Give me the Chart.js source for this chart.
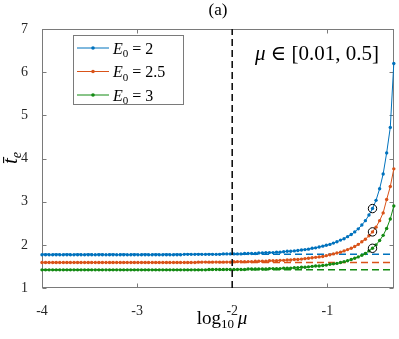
<!DOCTYPE html>
<html><head><meta charset="utf-8">
<script src="https://cdn.jsdelivr.net/npm/chart.js@4/dist/chart.umd.min.js"></script>
<style>html,body{margin:0;padding:0;background:#fff;overflow:hidden}</style>
</head><body>
<canvas id="c" width="399" height="339"></canvas>
<script>
// ---- data ----
const logMu = [
-4.000,-3.963,-3.925,-3.888,-3.851,-3.813,-3.776,-3.738,-3.701,-3.664,
-3.626,-3.589,-3.552,-3.514,-3.477,-3.440,-3.402,-3.365,-3.327,-3.290,
-3.253,-3.215,-3.178,-3.141,-3.103,-3.066,-3.029,-2.991,-2.954,-2.916,
-2.879,-2.842,-2.804,-2.767,-2.730,-2.692,-2.655,-2.618,-2.580,-2.543,
-2.505,-2.468,-2.431,-2.393,-2.356,-2.319,-2.281,-2.244,-2.207,-2.169,
-2.132,-2.094,-2.057,-2.020,-1.982,-1.945,-1.908,-1.870,-1.833,-1.796,
-1.758,-1.721,-1.683,-1.646,-1.609,-1.571,-1.534,-1.497,-1.459,-1.422,
-1.385,-1.347,-1.310,-1.272,-1.235,-1.198,-1.160,-1.123,-1.086,-1.048,
-1.011,-0.973,-0.936,-0.899,-0.861,-0.824,-0.787,-0.749,-0.712,-0.675,
-0.637,-0.600,-0.562,-0.525,-0.488,-0.450,-0.413,-0.376,-0.338,-0.301];

const tE_E2 = [
1.77,1.77,1.77,1.77,1.77,1.77,1.77,1.77,1.77,1.77,
1.77,1.77,1.77,1.77,1.77,1.77,1.77,1.77,1.77,1.77,
1.77,1.77,1.77,1.77,1.77,1.77,1.77,1.77,1.77,1.77,
1.77,1.77,1.77,1.77,1.77,1.77,1.77,1.77,1.77,1.77,
1.78,1.78,1.78,1.78,1.78,1.78,1.78,1.78,1.78,1.78,
1.78,1.79,1.79,1.79,1.79,1.79,1.79,1.80,1.80,1.80,
1.80,1.81,1.81,1.82,1.82,1.82,1.83,1.83,1.84,1.85,
1.85,1.86,1.87,1.88,1.89,1.90,1.92,1.93,1.95,1.97,
1.99,2.01,2.04,2.07,2.11,2.14,2.19,2.24,2.30,2.37,
2.46,2.56,2.69,2.84,3.03,3.30,3.64,4.13,4.72,6.20];

const tE_E25 = [
1.59,1.59,1.59,1.59,1.59,1.59,1.59,1.59,1.59,1.59,
1.59,1.59,1.59,1.59,1.59,1.59,1.59,1.59,1.59,1.59,
1.59,1.59,1.59,1.59,1.59,1.59,1.59,1.59,1.59,1.59,
1.59,1.59,1.59,1.59,1.59,1.59,1.59,1.59,1.59,1.59,
1.59,1.59,1.59,1.59,1.60,1.60,1.60,1.60,1.60,1.60,
1.60,1.60,1.60,1.60,1.61,1.61,1.61,1.61,1.61,1.61,
1.62,1.62,1.62,1.62,1.63,1.63,1.63,1.64,1.64,1.65,
1.65,1.66,1.66,1.67,1.68,1.69,1.70,1.71,1.72,1.73,
1.75,1.77,1.79,1.81,1.83,1.86,1.89,1.92,1.96,2.01,
2.07,2.13,2.21,2.30,2.41,2.56,2.74,3.05,3.35,3.76];

const tE_E3 = [
1.42,1.42,1.42,1.42,1.42,1.42,1.42,1.42,1.42,1.42,
1.42,1.42,1.42,1.42,1.42,1.42,1.42,1.42,1.42,1.42,
1.42,1.42,1.42,1.42,1.42,1.42,1.42,1.42,1.42,1.42,
1.42,1.42,1.42,1.42,1.42,1.42,1.42,1.42,1.42,1.42,
1.42,1.42,1.42,1.42,1.42,1.42,1.42,1.43,1.43,1.43,
1.43,1.43,1.43,1.43,1.43,1.43,1.43,1.43,1.44,1.44,
1.44,1.44,1.44,1.44,1.45,1.45,1.45,1.45,1.46,1.46,
1.46,1.47,1.47,1.48,1.48,1.49,1.50,1.51,1.51,1.52,
1.53,1.55,1.56,1.57,1.59,1.61,1.63,1.66,1.69,1.72,
1.76,1.80,1.86,1.92,2.00,2.10,2.22,2.38,2.60,2.90];

const E0Labels = ['2', '2.5', '3'];
const asymptotes = [1.78, 1.59, 1.42];
const markedLogMu = -0.525;
const markedValues = [2.84, 2.30, 1.92];
const refLogMu = -2;
const xTicks = [-4, -3, -2, -1];
const yTicks = [1, 2, 3, 4, 5, 6, 7];
const xRange = [-4, -0.30103];

// ---- styling ----
const colors = ['#0072BD', '#D95319', '#138A13'];
const FONT = '"Liberation Serif", "DejaVu Serif", serif';
const AXIS_COL = '#7a7a7a';
const TEXT_COL = '#262626';

const series = [tE_E2, tE_E25, tE_E3];

const datasets = [];
datasets.push({
  label: 'marked', data: markedValues.map(v => ({x: markedLogMu, y: v})),
  showLine: false, pointRadius: 4.2, pointStyle: 'circle',
  pointBackgroundColor: 'rgba(0,0,0,0)', pointBorderColor: '#000', pointBorderWidth: 1, clip: 10
});
datasets.push({
  label: 'ref', data: [{x: refLogMu, y: yTicks[0]}, {x: refLogMu, y: yTicks[yTicks.length - 1]}],
  showLine: true, borderColor: '#111', borderWidth: 1.6, borderDash: [7, 4], pointRadius: 0
});
series.forEach((arr, k) => {
  datasets.push({
    label: 'E0 = ' + E0Labels[k], data: logMu.map((x, i) => ({x, y: arr[i]})),
    showLine: true, borderColor: colors[k], borderWidth: 1, pointRadius: 1.7,
    pointBackgroundColor: colors[k], pointBorderWidth: 0, clip: 6
  });
});
asymptotes.forEach((a, k) => {
  datasets.push({
    label: 'asym' + k, data: [{x: xRange[0], y: a}, {x: xRange[1], y: a}],
    showLine: true, borderColor: colors[k], borderWidth: 1.5, borderDash: [7, 4], pointRadius: 0
  });
});

function drawRuns(ctx, x, y, runs, align) {
  let total = 0;
  runs.forEach(r => { ctx.font = r.font; r.w = ctx.measureText(r.t).width; total += r.w; });
  let cx = align === 'center' ? x - total / 2 : x;
  ctx.textAlign = 'left'; ctx.textBaseline = 'alphabetic';
  runs.forEach(r => { ctx.font = r.font; ctx.fillText(r.t, cx, y + (r.dy || 0)); cx += r.w; });
  return total;
}

const decor = {
  id: 'decor',
  beforeDatasetsDraw(chart) {
    const {ctx, chartArea: a, scales} = chart;
    ctx.save();
    ctx.strokeStyle = AXIS_COL; ctx.lineWidth = 1;
    const L = Math.round(a.left) + 0.5, R = Math.round(a.right) - 0.5;
    const T = Math.round(a.top) + 0.5, B = Math.round(a.bottom) - 0.5;
    ctx.strokeRect(L, T, R - L, B - T);
    ctx.beginPath();
    xTicks.forEach(v => {
      const px = Math.round(scales.x.getPixelForValue(v)) + 0.5;
      ctx.moveTo(px, B); ctx.lineTo(px, B - 4);
      ctx.moveTo(px, T); ctx.lineTo(px, T + 4);
    });
    yTicks.forEach(v => {
      const py = Math.round(scales.y.getPixelForValue(v)) + 0.5;
      ctx.moveTo(L, py); ctx.lineTo(L + 4, py);
      ctx.moveTo(R, py); ctx.lineTo(R - 4, py);
    });
    ctx.stroke();
    ctx.restore();
  },
  afterDraw(chart) {
    const {ctx, chartArea: a} = chart;
    ctx.save();
    ctx.fillStyle = '#000';
    // title
    drawRuns(ctx, (a.left + a.right) / 2, 15, [{t: '(a)', font: '17px ' + FONT}], 'center');
    // x title
    drawRuns(ctx, 222, 324, [
      {t: 'log', font: '19px ' + FONT},
      {t: '10', font: '13px ' + FONT, dy: 4},
      {t: '\u2009', font: '19px ' + FONT},
      {t: 'μ', font: 'italic 19px ' + FONT}
    ], 'center');
    // y title
    ctx.save();
    ctx.translate(17, 158);
    ctx.rotate(-Math.PI / 2);
    drawRuns(ctx, 0, 0, [
      {t: 't\u0304', font: 'italic 21px ' + FONT},
      {t: 'e', font: 'italic 14px ' + FONT, dy: 4}
    ], 'center');
    ctx.restore();
    // annotation
    drawRuns(ctx, 255, 60, [
      {t: 'μ', font: 'italic 21px ' + FONT},
      {t: ' ∈ [0.01, 0.5]', font: '21px ' + FONT}
    ], 'left');
    // legend
    const bx = 73.5, by = 35.5, bw = 110, bh = 69;
    ctx.fillStyle = '#fff';
    ctx.fillRect(bx, by, bw, bh);
    ctx.strokeStyle = AXIS_COL; ctx.lineWidth = 1;
    ctx.strokeRect(bx, by, bw, bh);
    const rows = [48, 71.5, 95];
    rows.forEach((ry, k) => {
      ctx.strokeStyle = colors[k]; ctx.lineWidth = 1;
      ctx.beginPath(); ctx.moveTo(77, ry); ctx.lineTo(109, ry); ctx.stroke();
      ctx.fillStyle = colors[k];
      ctx.beginPath(); ctx.arc(93, ry, 1.8, 0, Math.PI * 2); ctx.fill();
      ctx.fillStyle = '#000';
      drawRuns(ctx, 113, ry + 5.5, [
        {t: 'E', font: 'italic 16px ' + FONT},
        {t: '0', font: '11px ' + FONT, dy: 3.5},
        {t: ' = ' + E0Labels[k], font: '16px ' + FONT}
      ], 'left');
    });
    ctx.restore();
  }
};

new Chart(document.getElementById('c'), {
  type: 'scatter',
  data: {datasets},
  options: {
    responsive: false, animation: false, devicePixelRatio: 1,
    layout: {padding: {top: 29, right: 3, left: 0, bottom: 0}},
    plugins: {legend: {display: false}, tooltip: {enabled: false}, title: {display: false}},
    elements: {line: {tension: 0}},
    scales: {
      x: {
        type: 'linear', min: xRange[0], max: xRange[1],
        afterBuildTicks: s => { s.ticks = xTicks.map(v => ({value: v})); },
        afterFit: s => { s.height = 51; },
        grid: {display: false}, border: {display: false},
        ticks: {color: TEXT_COL, font: {family: FONT, size: 14}, padding: 7, maxRotation: 0, autoSkip: false,
          callback: v => String(v)}
      },
      y: {
        type: 'linear', min: yTicks[0], max: yTicks[yTicks.length - 1],
        afterBuildTicks: s => { s.ticks = yTicks.map(v => ({value: v})); },
        afterFit: s => { s.width = 42; },
        grid: {display: false}, border: {display: false},
        ticks: {color: TEXT_COL, font: {family: FONT, size: 14}, padding: 6, autoSkip: false,
          callback: v => String(v)}
      }
    }
  },
  plugins: [decor]
});
</script>
</body></html>
